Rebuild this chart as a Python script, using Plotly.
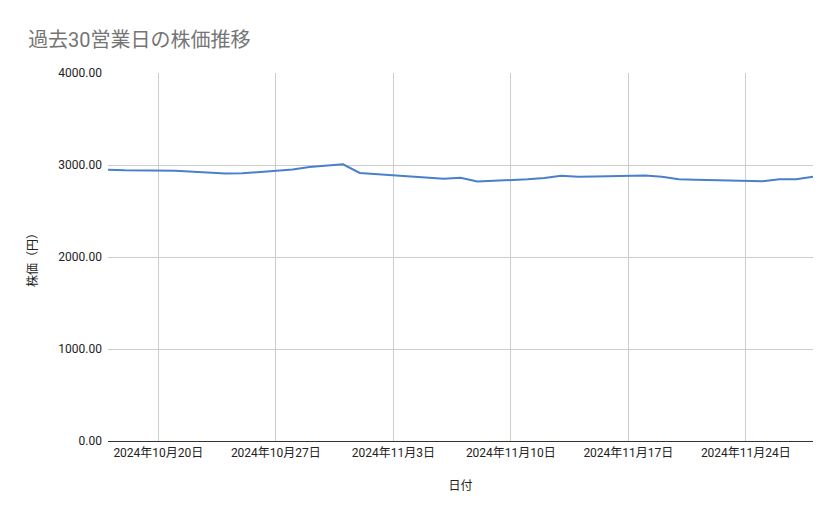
import plotly.graph_objects as go
import pandas as pd

# 過去30営業日の終値(円)
dates = [
    "2024-10-17", "2024-10-18",
    "2024-10-21", "2024-10-22", "2024-10-23", "2024-10-24", "2024-10-25",
    "2024-10-28", "2024-10-29", "2024-10-30", "2024-10-31", "2024-11-01",
    "2024-11-05", "2024-11-06", "2024-11-07", "2024-11-08",
    "2024-11-11", "2024-11-12", "2024-11-13", "2024-11-14", "2024-11-15",
    "2024-11-18", "2024-11-19", "2024-11-20", "2024-11-21", "2024-11-22",
    "2024-11-25", "2024-11-26", "2024-11-27", "2024-11-28",
]
prices = [
    2948, 2942,
    2938, 2929, 2918, 2908, 2910,
    2951, 2978, 2989, 3008, 2913,
    2862, 2850, 2862, 2820,
    2845, 2858, 2884, 2873, 2875,
    2885, 2872, 2845, 2840, 2837,
    2823, 2845, 2845, 2873,
]

tick_dates = ["2024-10-20", "2024-10-27", "2024-11-03", "2024-11-10", "2024-11-17", "2024-11-24"]
tick_labels = ["2024年10月20日", "2024年10月27日", "2024年11月3日",
               "2024年11月10日", "2024年11月17日", "2024年11月24日"]
y_ticks = [0, 1000, 2000, 3000, 4000]

df = pd.DataFrame({"日付": pd.to_datetime(dates), "株価": prices})

font = "Roboto, 'Noto Sans CJK JP', sans-serif"

fig = go.Figure(go.Scatter(x=df["日付"], y=df["株価"], mode="lines",
                           line=dict(color="#4a7fcd", width=2)))

# page body has an 8px margin, so the figure is shifted by 8px
fig.update_layout(
    width=839, height=519,
    margin=dict(l=100, r=34, t=65, b=86),
    paper_bgcolor="white", plot_bgcolor="white",
    font=dict(family=font, color="#222222", size=12),
    title=dict(text="過去30営業日の株価推移", x=0.024, xanchor="left", y=0.938, yanchor="middle",
               font=dict(family=font, size=20, color="#757575")),
    showlegend=False,
)
fig.update_xaxes(
    range=[df["日付"].min(), df["日付"].max()],
    tickvals=pd.to_datetime(tick_dates), ticktext=tick_labels,
    showgrid=True, gridcolor="#cccccc", gridwidth=1,
    showline=False, zeroline=False, ticks="", ticklabelstandoff=3,
    title=dict(text="日付", font=dict(size=12, color="#222222"), standoff=22),
)
fig.update_yaxes(
    range=[0, 4000], tickvals=y_ticks, tickformat=".2f",
    showgrid=True, gridcolor="#cccccc", gridwidth=1,
    zeroline=True, zerolinecolor="#333333", zerolinewidth=1,
    ticks="", ticklabelstandoff=5,
    title=dict(text="株価（円）", font=dict(size=12, color="#222222"), standoff=18),
)

fig.write_html("out.html")
